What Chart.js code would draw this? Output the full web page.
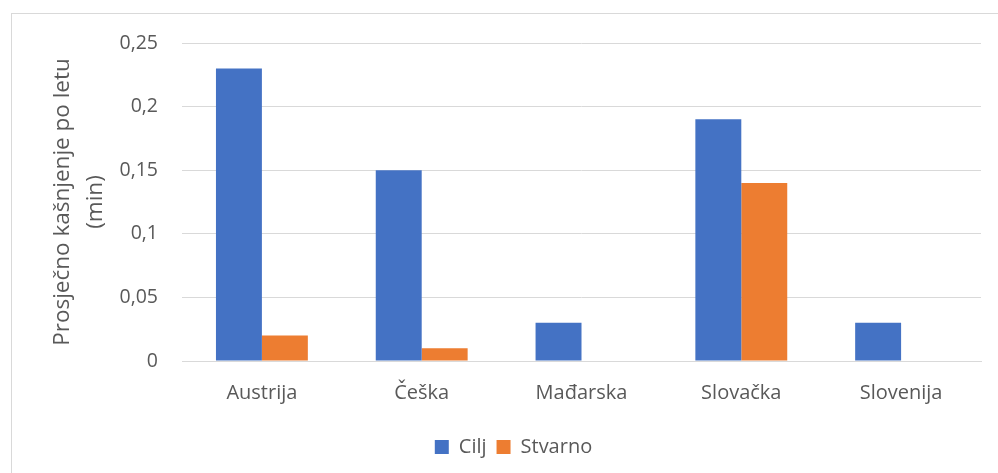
<!DOCTYPE html>
<html>
<head>
<meta charset="utf-8">
<script src="https://cdn.jsdelivr.net/npm/chart.js@4/dist/chart.umd.min.js"></script>
<style>
    html, body { margin: 0; padding: 0; background: #fff; overflow: hidden; }
    #frame {
        position: absolute; left: 11px; top: 13px;
        width: 1100px; height: 600px;
        border: 1px solid #d9d9d9;
    }
    #wrap { position: absolute; left: 0; top: 0; width: 998px; height: 473px; }
</style>
</head>
<body>
<div id="frame"></div>
<div id="wrap"><canvas id="delayChart"></canvas></div>
<script>
const categories = ["Austrija", "Češka", "Mađarska", "Slovačka", "Slovenija"];
const ciljValues = [0.23, 0.15, 0.03, 0.19, 0.03];
const stvarnoValues = [0.02, 0.01, 0, 0.14, 0];
const yTicks = [0, 0.05, 0.1, 0.15, 0.2, 0.25];

const textColor = "#595959";
const fontFamily = "'Open Sans', sans-serif";

const ctx = document.getElementById("delayChart").getContext("2d");
new Chart(ctx, {
    type: 'bar',
    data: {
        labels: categories,
        datasets: [
            {
                label: 'Cilj',
                data: ciljValues,
                backgroundColor: '#4472c4',
                barPercentage: 1,
                categoryPercentage: 0.575
            },
            {
                label: 'Stvarno',
                data: stvarnoValues,
                backgroundColor: '#ed7d31',
                barPercentage: 1,
                categoryPercentage: 0.575
            }
        ]
    },
    options: {
        responsive: true,
        maintainAspectRatio: false,
        animation: false,
        layout: { padding: { left: 46, top: 43, right: 17, bottom: 6 } },
        plugins: {
            tooltip: { enabled: false },
            legend: {
                position: 'bottom',
                labels: {
                    color: textColor,
                    font: { family: fontFamily, size: 20 },
                    boxWidth: 14,
                    boxHeight: 14,
                    padding: 10
                }
            }
        },
        scales: {
            x: {
                grid: { display: false, drawTicks: false },
                border: { color: '#d9d9d9', width: 1 },
                ticks: {
                    color: textColor,
                    font: { family: fontFamily, size: 20 },
                    padding: 20
                },
                afterFit: s => { s.height = 66; }
            },
            y: {
                min: 0,
                max: 0.25,
                afterBuildTicks: s => { s.ticks = yTicks.map(v => ({ value: v })); },
                grid: { color: '#d9d9d9', lineWidth: 1, drawTicks: false },
                border: { display: false },
                ticks: {
                    color: textColor,
                    font: { family: fontFamily, size: 19.5 },
                    padding: 24,
                    callback: v => String(v).replace('.', ',')
                },
                title: {
                    display: true,
                    text: ['Prosječno kašnjenje po letu', '(min)'],
                    color: textColor,
                    font: { family: fontFamily, size: 22.5, lineHeight: 1.47 },
                    padding: { top: 0, bottom: 0 }
                },
                afterFit: s => { s.width = 136; }
            }
        }
    }
});
</script>
</body>
</html>
